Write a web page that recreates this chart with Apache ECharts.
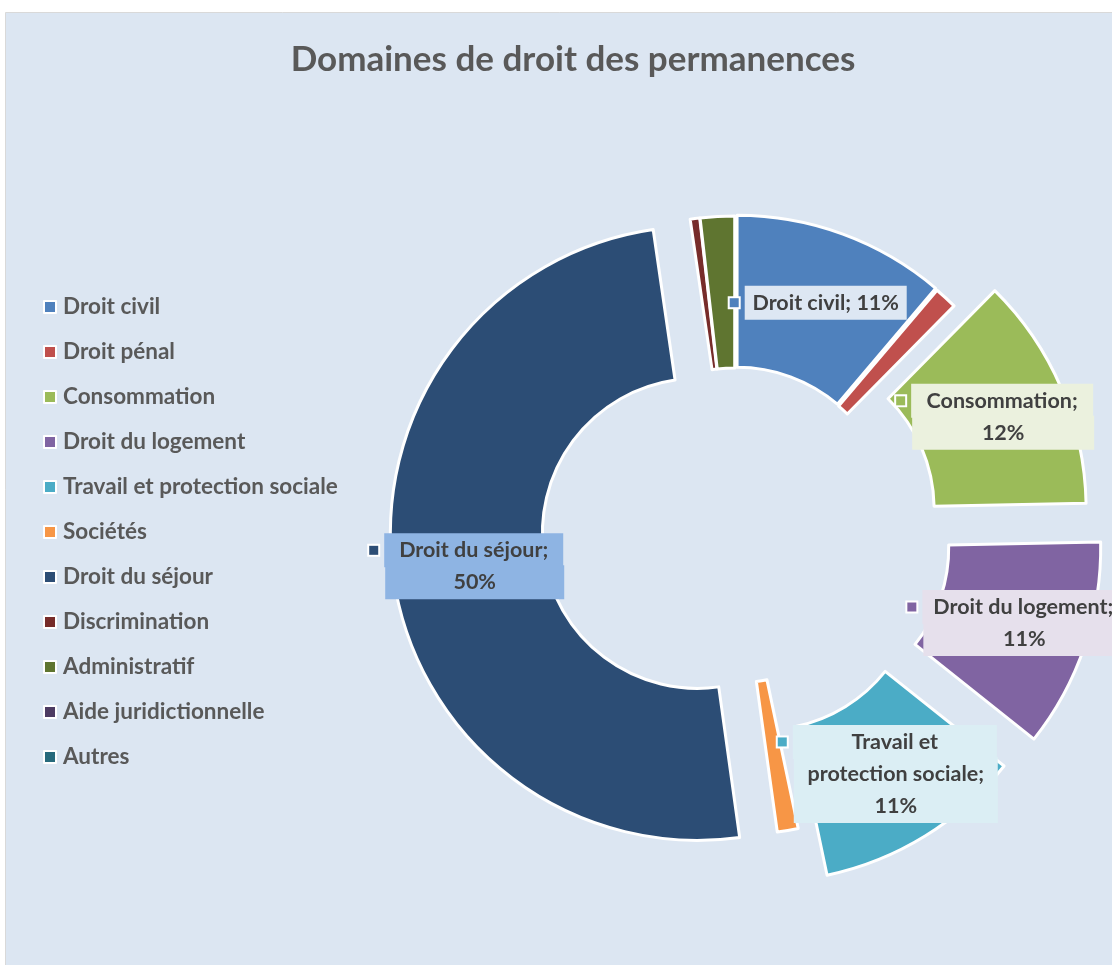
<!DOCTYPE html>
<html>
<head>
<meta charset="utf-8">
<title>Domaines de droit des permanences</title>
<script src="https://cdn.jsdelivr.net/npm/echarts@6/dist/echarts.min.js"></script>
<style>
  html, body { margin: 0; padding: 0; background: #fff; }
  #chart { width: 1112px; height: 965px; }
</style>
</head>
<body>
<div id="chart"></div>
<script>
// parts of the permanences, in percent
const categories = [
  'Droit civil', 'Droit pénal', 'Consommation', 'Droit du logement',
  'Travail et protection sociale', 'Sociétés', 'Droit du séjour',
  'Discrimination', 'Administratif', 'Aide juridictionnelle', 'Autres'
]
const shares = [11.2, 1.2, 12.3, 11.0, 11.0, 1.1, 49.9, 0.5, 1.8, 0, 0]
const colors = [
  '#4F81BD', '#C0504D', '#9BBB59', '#8064A2', '#4BACC6', '#F79646',
  '#2C4D75', '#772C2A', '#5F7530', '#4D3B62', '#276A7C'
]
// how far each slice is pulled out of the ring (px), as in the original
const explode = [6, 5, 48, 62, 55, 0, 38, 5, 5, 0, 0]

// data label text, {p} = rounded percent
const labelText = {
  'Droit civil': 'Droit civil; {p}%',
  'Consommation': 'Consommation;\n{p}%',
  'Droit du logement': 'Droit du logement;\n{p}%',
  'Travail et protection sociale': 'Travail et\nprotection sociale;\n{p}%',
  'Droit du séjour': 'Droit du séjour;\n{p}%'
}
const labelBox = {
  'Droit civil': { w: 160, bg: '#DDE7F3' },
  'Consommation': { w: 180, bg: '#EBF1DE' },
  'Droit du logement': { w: 200, bg: '#E6E0EC' },
  'Travail et protection sociale': { w: 202, bg: '#DBEEF4' },
  'Droit du séjour': { w: 177, bg: '#8EB4E3' }
}

const FONT = 'Lato, "Open Sans", sans-serif'
const CENTER = [735, 528]
const RADIUS = [155, 307]

const chart = echarts.init(document.getElementById('chart'))

const makeLabel = (name, i) => {
  const box = labelBox[name]
  if (!box) return { show: false }
  return {
    show: true,
    position: 'inside',
    formatter: p => {
      const lines = labelText[name].replace('{p}', Math.round(p.percent)).split('\n')
      return lines.map((l, j) => (j === 0 ? '{k|}{g|}' : '{e|}') + '{t|' + l + '}').join('\n')
    },
    rich: {
      k: { width: 9, height: 9, backgroundColor: colors[i], borderColor: '#fff', borderWidth: 2 },
      g: { width: 7 },
      e: { width: 18 },
      t: {
        width: box.w, height: 32, lineHeight: 32, align: 'center',
        backgroundColor: box.bg, borderColor: box.bg, borderWidth: 1,
        color: '#404040', fontSize: 21.5, fontWeight: 'bold', fontFamily: FONT
      }
    }
  }
}

// one ring per slice so that each slice gets its own pull-out distance;
// the other slices of that ring are left empty
const series = categories.map((owner, i) => ({
  type: 'pie',
  center: CENTER,
  radius: RADIUS,
  startAngle: 90,
  clockwise: true,
  silent: true,
  selectedMode: 'multiple',
  selectedOffset: explode[i],
  avoidLabelOverlap: false,
  labelLine: { show: false },
  emphasis: { disabled: true },
  data: categories.map((name, j) => j === i
    ? {
        name, value: shares[j], selected: true,
        itemStyle: { color: colors[j], borderColor: '#fff', borderWidth: shares[j] > 0 ? 3 : 0 },
        label: makeLabel(name, j)
      }
    : {
        name, value: shares[j],
        itemStyle: { color: 'rgba(0,0,0,0)', borderWidth: 0 },
        label: { show: false }
      })
}))

const option = {
  backgroundColor: '#fff',
  animation: false,
  graphic: [{
    type: 'rect',
    z: -10,
    shape: { x: 5.5, y: 12.5, width: 1110, height: 960 },
    style: { fill: '#DCE6F2', stroke: '#D9D9D9', lineWidth: 1 }
  }],
  title: {
    text: 'Domaines de droit des permanences',
    left: 568,
    textAlign: 'center',
    top: 37,
    textStyle: { fontSize: 35, fontWeight: 'bold', color: '#595959', fontFamily: FONT }
  },
  legend: {
    orient: 'vertical',
    left: 38,
    top: 289,
    itemWidth: 12,
    itemHeight: 12,
    itemGap: 19,
    icon: 'rect',
    selectedMode: false,
    textStyle: {
      fontSize: 22.5, fontWeight: 'bold', color: '#595959', fontFamily: FONT,
      lineHeight: 26, padding: [0, 0, 0, 2]
    },
    data: categories.map((name, i) => ({
      name,
      itemStyle: { color: colors[i], borderColor: '#fff', borderWidth: 2 }
    }))
  },
  series
}

chart.setOption(option)
</script>
</body>
</html>
